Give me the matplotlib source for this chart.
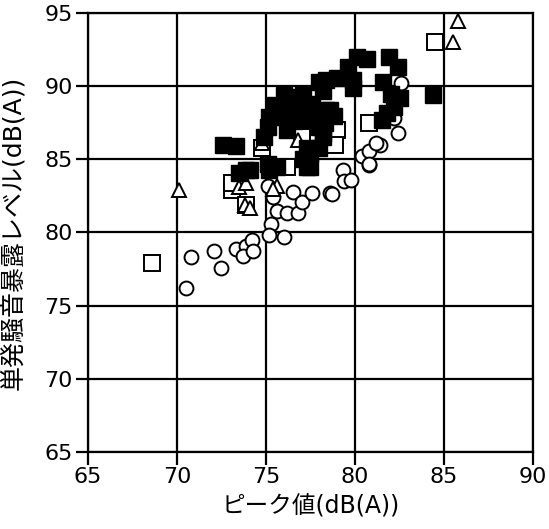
import matplotlib.pyplot as plt
import numpy as np

# 英数字は DejaVu Sans、日本語は Noto Sans CJK JP
plt.rcParams['font.family'] = ['DejaVu Sans', 'Noto Sans CJK JP']

# ピーク値 / 単発騒音暴露レベル の読み取り値
# 白丸
circ_x = [70.5, 70.8, 72.1, 72.5, 73.3, 73.9, 74.2, 73.7, 74.3, 75.3, 75.2, 76.0,
          75.6, 76.2, 76.8, 76.5, 77.0, 77.6, 75.4, 75.1, 78.6, 79.3, 79.4, 79.8,
          78.7, 80.4, 80.8, 80.8, 81.4, 82.4, 82.2, 81.2, 80.8, 82.6]
circ_y = [76.2, 78.3, 78.7, 77.6, 78.9, 79.1, 79.5, 78.4, 78.7, 80.6, 79.8, 79.7,
          81.5, 81.3, 81.3, 82.8, 82.1, 82.7, 82.4, 83.2, 82.7, 84.3, 83.5, 83.6,
          82.6, 85.2, 84.6, 85.6, 86.0, 86.8, 87.8, 86.1, 84.7, 90.2]

# 白三角
tri_x = [70.1, 85.8, 85.5, 74.8, 76.8, 73.5, 73.8, 74.1, 75.6, 75.4, 73.9]
tri_y = [82.9, 94.5, 93.0, 86.1, 86.3, 83.1, 81.9, 81.7, 83.2, 83.0, 83.4]

# 白四角
sq_x = [68.6, 84.5, 80.8, 79.0, 78.9, 73.1, 73.9, 76.2, 74.8, 73.1, 77.0, 77.5]
sq_y = [77.9, 93.0, 87.5, 87.0, 86.0, 82.9, 81.9, 84.5, 85.8, 83.4, 86.5, 85.5]

# 黒四角
fsq_x = [72.6, 73.3, 80.1, 80.7, 79.6, 79.0, 78.4, 79.9, 79.9, 78.2, 81.9, 82.4,
         81.6, 82.0, 82.5, 81.8, 81.5, 82.2, 84.4, 78.4, 78.8, 78.3, 78.2, 77.3,
         77.3, 77.5, 78.2, 78.6, 78.0, 76.5, 76.0, 77.1, 77.6, 75.2, 75.8, 76.9,
         77.5, 75.1, 76.2, 78.0, 74.9, 73.5, 74.1, 75.1, 75.6, 77.1, 77.5, 78.0,
         77.3, 73.9, 75.2, 76.3, 76.8, 75.5, 76.6]
fsq_y = [86.0, 85.9, 92.0, 91.9, 91.3, 90.6, 90.4, 90.4, 89.9, 89.7, 92.0, 91.3,
         90.3, 89.5, 89.2, 88.2, 87.7, 88.6, 89.4, 88.4, 88.0, 87.5, 86.5, 85.0,
         85.8, 84.5, 86.8, 88.4, 90.3, 89.3, 89.4, 89.5, 88.8, 87.9, 87.9, 88.2,
         87.7, 87.2, 87.0, 87.2, 86.5, 84.1, 84.3, 84.7, 84.5, 85.0, 85.4, 85.8,
         84.5, 84.3, 84.3, 88.6, 89.0, 88.7, 87.6]

fig = plt.figure(figsize=(5.49, 5.29), dpi=100)
ax = fig.add_axes([0.160, 0.146, 0.811, 0.829])

ax.plot(circ_x, circ_y, 'o', ms=10, mfc='white', mec='black', mew=1.4, zorder=3)
ax.plot(sq_x, sq_y, 's', ms=11, mfc='white', mec='black', mew=1.4, zorder=4)
ax.plot(tri_x, tri_y, '^', ms=10, mfc='white', mec='black', mew=1.4, zorder=5)
ax.plot(fsq_x, fsq_y, 's', ms=11, mfc='black', mec='black', mew=1.0, zorder=6)

ax.set_xlim(65, 90)
ax.set_ylim(65, 95)
ax.set_xticks(np.arange(65, 91, 5))
ax.set_yticks(np.arange(65, 96, 5))
ax.grid(True, color='black', linewidth=1.6)
ax.set_axisbelow(True)
for s in ax.spines.values():
    s.set_linewidth(1.6)
ax.tick_params(direction='out', length=9, width=1.6, labelsize=16, pad=2)

ax.set_xlabel('ピーク値(dB(A))', fontsize=17)
ax.set_ylabel('単発騒音暴露レベル(dB(A))', fontsize=18)
ax.xaxis.set_label_coords(0.5, -0.098)
ax.yaxis.set_label_coords(-0.14, 0.5)

fig.savefig('out.png', dpi=100)
